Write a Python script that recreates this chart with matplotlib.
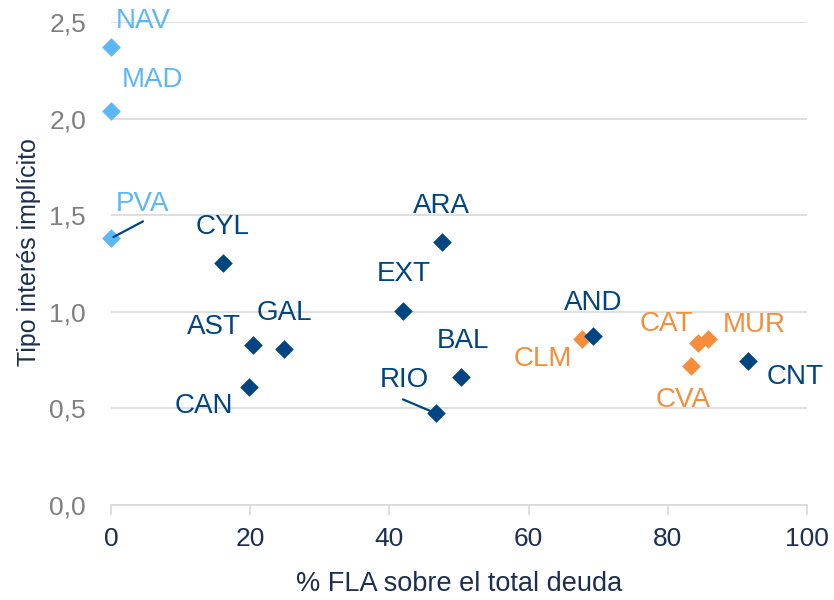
import matplotlib
matplotlib.use("Agg")
import matplotlib.pyplot as plt
from matplotlib.ticker import FuncFormatter

plt.rcParams['font.family'] = ['Liberation Sans', 'DejaVu Sans']

# data
regions = ["NAV", "MAD", "PVA", "CYL", "ARA", "EXT", "AST", "GAL", "CAN",
           "RIO", "BAL", "AND", "CLM", "CAT", "MUR", "CVA", "CNT"]
fla_pct = [0.0, 0.0, 0.0, 16.1, 47.5, 42.0, 20.4, 24.9, 19.8,
           46.7, 50.3, 69.3, 67.7, 84.4, 85.8, 83.4, 91.5]
tipo = [2.37, 2.04, 1.38, 1.255, 1.363, 1.005, 0.83, 0.81, 0.61,
        0.474, 0.66, 0.874, 0.857, 0.84, 0.857, 0.722, 0.745]
group = ["foral", "foral", "foral", "base", "base", "base", "base", "base", "base",
         "base", "base", "base", "fla", "fla", "fla", "fla", "base"]

colors = {"foral": "#5BB8F5", "base": "#004481", "fla": "#F68D3A"}
zorders = {"fla": 3, "base": 4, "foral": 5}

# label offsets in pixels (text centre relative to point)
offsets = {"NAV": (32, 26), "MAD": (41, 31), "PVA": (32, 34), "CYL": (0, 36),
           "ARA": (0, 36), "EXT": (0, 37), "AST": (-39, 18), "GAL": (0, 36),
           "CAN": (-45, -19), "RIO": (-32, 33), "BAL": (2, 36), "AND": (0, 33),
           "CLM": (-39, -20), "CAT": (-32, 19), "MUR": (46, 14), "CVA": (-8, -34),
           "CNT": (47, -16)}

fig = plt.figure(figsize=(8.34, 6.0), dpi=100)
ax = fig.add_axes([111 / 834, 1 - 505 / 600, 696 / 834, 483 / 600])

for g in ["fla", "base", "foral"]:
    xs = [x for x, gg in zip(fla_pct, group) if gg == g]
    ys = [y for y, gg in zip(tipo, group) if gg == g]
    ax.scatter(xs, ys, marker="D", s=90, color=colors[g], linewidths=0,
               zorder=zorders[g], clip_on=False)

for name, x, y, g in zip(regions, fla_pct, tipo, group):
    dx, dy = offsets[name]
    ax.annotate(name, (x, y), xytext=(dx, dy), textcoords="offset pixels",
                ha="center", va="center", fontsize=20, color=colors[g], zorder=6)

# leader lines for PVA and RIO
pva = regions.index("PVA")
ax.annotate("", (fla_pct[pva], tipo[pva]), xytext=(32, 17), textcoords="offset pixels",
            arrowprops=dict(arrowstyle="-", color="#004481", lw=1.6, shrinkA=0, shrinkB=2),
            zorder=7)
rio = regions.index("RIO")
ax.annotate("", (fla_pct[rio], tipo[rio]), xytext=(-33, 14), textcoords="offset pixels",
            arrowprops=dict(arrowstyle="-", color="#004481", lw=1.6, shrinkA=0, shrinkB=3),
            zorder=7)

ax.set_xlim(0, 100)
ax.set_ylim(0, 2.5)
ax.set_xticks([0, 20, 40, 60, 80, 100])
ax.set_yticks([0, 0.5, 1.0, 1.5, 2.0, 2.5])
ax.yaxis.set_major_formatter(FuncFormatter(lambda v, p: f"{v:.1f}".replace(".", ",")))

ax.grid(axis="y", color="#D9D9D9", lw=1.2, zorder=0)
ax.set_axisbelow(True)
for s in ["top", "right", "left"]:
    ax.spines[s].set_visible(False)
ax.spines["bottom"].set_color("#D9D9D9")
ax.spines["bottom"].set_linewidth(1.2)

ax.tick_params(axis="x", colors="#D9D9D9", length=7, width=1.2, pad=9)
ax.tick_params(axis="y", length=0, pad=18)
for t in ax.get_xticklabels():
    t.set_color("#1C2F4E")
    t.set_fontsize(19)
for t in ax.get_yticklabels():
    t.set_color("#7F7F7F")
    t.set_fontsize(19)

ax.set_xlabel("% FLA sobre el total deuda", fontsize=19.5, color="#1C2F4E", labelpad=14)
ax.set_ylabel("Tipo interés implícito", fontsize=18, color="#1C2F4E", labelpad=6)
ax.yaxis.label.set_y(0.524)

fig.savefig("out.png", dpi=100)
